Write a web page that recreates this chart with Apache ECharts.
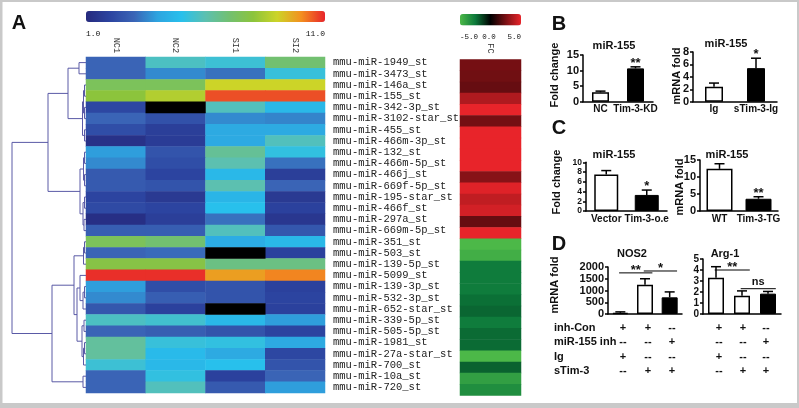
<!DOCTYPE html>
<html><head><meta charset="utf-8">
<script src="https://cdn.jsdelivr.net/npm/echarts@6/dist/echarts.min.js"></script>
<style>html,body{margin:0;padding:0;background:#fff}#c{width:799px;height:408px}</style>
</head><body><div id="c"></div>
<script>
// ---------- Panel A data ----------
const samples = ['NC1', 'NC2', 'SI1', 'SI2'];
const mirnas = ['mmu-miR-1949_st','mmu-miR-3473_st','mmu-miR-146a_st','mmu-miR-155_st','mmu-miR-342-3p_st',
  'mmu-miR-3102-star_st','mmu-miR-455_st','mmu-miR-466m-3p_st','mmu-miR-132_st','mmu-miR-466m-5p_st',
  'mmu-miR-466j_st','mmu-miR-669f-5p_st','mmu-miR-195-star_st','mmu-miR-466f_st','mmu-miR-297a_st',
  'mmu-miR-669m-5p_st','mmu-miR-351_st','mmu-miR-503_st','mmu-miR-139-5p_st','mmu-miR-5099_st',
  'mmu-miR-139-3p_st','mmu-miR-532-3p_st','mmu-miR-652-star_st','mmu-miR-339-5p_st','mmu-miR-505-5p_st',
  'mmu-miR-1981_st','mmu-miR-27a-star_st','mmu-miR-700_st','mmu-miR-10a_st','mmu-miR-720_st'];
// expression [NC1, NC2, SI1, SI2]; null = missing (black)
const expr = [
  [3.0, 5.7, 5.4, 7.0], [3.0, 3.6, 3.2, 5.3], [7.4, 7.4, 9.0, 9.0], [8.0, 8.6, 10.6, 10.6],
  [2.1, null, 5.8, 4.7], [3.0, 2.4, 3.6, 3.5], [2.3, 1.8, 4.2, 4.2], [1.3, 1.7, 4.2, 5.8],
  [3.9, 2.5, 6.4, 5.2], [3.6, 2.3, 6.0, 3.2], [2.7, 2.0, 4.7, 1.8], [2.7, 2.5, 6.0, 3.0],
  [2.0, 1.6, 4.6, 1.6], [2.2, 2.0, 5.0, 1.9], [1.2, 1.8, 3.2, 1.5], [2.8, 2.8, 5.8, 2.6],
  [7.4, 7.0, 4.3, 4.7], [3.0, 3.1, null, 1.9], [7.8, 7.8, 6.7, 6.7], [10.9, 10.9, 9.8, 10.1],
  [3.9, 2.3, 2.5, 1.9], [3.6, 2.8, 2.5, 2.0], [2.6, 1.9, null, 1.9], [5.7, 5.5, 4.7, 3.9],
  [3.0, 2.8, 2.5, 2.0], [6.3, 5.3, 5.2, 4.2], [6.3, 4.8, 4.2, 2.1], [5.4, 4.7, 5.0, 2.5],
  [3.0, 5.2, 1.9, 3.0], [3.0, 5.8, 2.7, 3.9]];
const fcValues = [2.4, 2.3, 2.1, 3.7, 5, 2.4, 5, 5, 5, 5, 2.8, 4.8, 4.1, 4.5, 2.1, 5,
  -5, -4.6, -2.6, -2.6, -2.6, -2.3, -2.1, -2.6, -2.2, -2.2, -5, -2.0, -4.0, -3.3];
// dendrogram: [merge height, left, right]; numbers are row indices
const dendroTree = [74,
  [38,
    [18, [7, 0, 1], [3.5, [2.5, [1.5, 2, 3], [1.5, 4, 5]], [1.5, 6, 7]]],
    [6, [2.5, [1.5, 8, 9], [1.5, 10, 11]], [3, [1.5, 12, 13], [2, 14, 15]]]],
  [34,
    [12, [2.5, [1.5, 16, 17], 18], [9, [6, 19, [3, [1.5, 20, 21], 22]], [4, [2, 23, 24], [2.5, [1.5, 25, 26], 27]]]],
    [3, 28, 29]]];
const heatTicks = ['1.0', '11.0'];
const fcTicks = ['-5.0', '0.0', '5.0'];
const fcName = ['FC'];

// ---------- Panels B, C, D data ----------
const b1Cats = ['NC', 'Tim-3-KD'], b1Mean = [3.0, 10.7], b1Err = [3.4, 11.2], b1Sig = ['', '**'];
const b2Cats = ['Ig', 'sTim-3-Ig'], b2Mean = [2.4, 5.4], b2Err = [3.0, 7.0], b2Sig = ['', '*'];
const c1Cats = ['Vector', 'Tim-3-o.e'], c1Mean = [7.5, 3.3], c1Err = [8.3, 4.3], c1Sig = ['', '*'];
const c2Cats = ['WT', 'Tim-3-TG'], c2Mean = [12.4, 3.6], c2Err = [13.9, 4.2], c2Sig = ['', '**'];
const dGroups = ['g1', 'g2', 'g3'];
const nosMean = [50, 1240, 710], nosErr = [90, 1500, 940];
const argMean = [3.3, 1.65, 1.85], argErr = [4.3, 2.1, 2.05];
const nosBrackets = [[0, 1, 1750, '**'], [1, 2, 1830, '*']];
const argBrackets = [[0, 1, 4.0, '**'], [1, 2, 2.3, 'ns']];
const tableRows = ['inh-Con', 'miR-155 inh', 'Ig', 'sTim-3'];
const tableMarks = [
  ['+', '+', '--', '+', '+', '--'],
  ['--', '--', '+', '--', '--', '+'],
  ['+', '--', '--', '+', '--', '--'],
  ['--', '+', '+', '--', '+', '+']];
const titles = ['miR-155', 'miR-155', 'miR-155', 'miR-155', 'NOS2', 'Arg-1'];
const yNames = ['Fold change', 'mRNA fold', 'Fold change', 'mRNA fold', 'mRNA fold'];
const panelLetters = ['A', 'B', 'C', 'D'];

// ---------- build ----------
const heatColors = ['#262a7e', '#2c44a0', '#3a64b6', '#2ea4e0', '#28c0ec', '#5cc0b0', '#72c070', '#8cc43c', '#ccd428', '#f3901f', '#e8242a'];
const fcColors = ['#4cb848', '#0c7a3b', '#000000', '#7a1014', '#e8242a'];

const heatData = [], missData = [];
expr.forEach((row, i) => row.forEach((v, j) => {
  if (v == null) missData.push([j, i, 0]); else heatData.push([j, i, v]);
}));
const fcData = fcValues.map((v, i) => [0, i, v]);

const segs = [];
function walk(n) {
  if (typeof n === 'number') return { y: n, h: 0 };
  const a = walk(n[1]), b = walk(n[2]);
  segs.push({ coords: [[a.h, a.y], [n[0], a.y], [n[0], b.y], [b.h, b.y]] });
  return { y: (a.y + b.y) / 2, h: n[0] };
}
walk(dendroTree);

const SANS = '"Liberation Sans", Arial, sans-serif';
const MONO = '"Liberation Mono", "DejaVu Sans Mono", monospace';

const grids = [
  { left: 86, top: 57, width: 239, height: 336 },
  { left: 11, top: 57, width: 75, height: 336 },
  { left: 460, top: 59.5, width: 61, height: 336 },
  { left: 583, top: 55, width: 70, height: 46.7 },
  { left: 693, top: 52, width: 84, height: 49.7 },
  { left: 586, top: 162.3, width: 81, height: 48.7 },
  { left: 700, top: 160, width: 78, height: 51 },
  { left: 608, top: 267, width: 74, height: 47 },
  { left: 703, top: 259, width: 78, height: 55 }
];

const xAxes = [
  { gridIndex: 0, type: 'category', data: samples, position: 'top', axisLine: { show: false }, axisTick: { show: false },
    axisLabel: { rotate: 90, fontFamily: MONO, fontSize: 8.5, color: '#333', margin: 4, interval: 0 } },
  { gridIndex: 1, type: 'value', min: 0, max: 75, inverse: true, show: false },
  { gridIndex: 2, type: 'category', data: fcName, position: 'top', axisLine: { show: false }, axisTick: { show: false },
    axisLabel: { rotate: 90, fontFamily: MONO, fontSize: 8.5, color: '#333', margin: 6, interval: 0 } }
];
const yAxes = [
  { gridIndex: 0, type: 'category', data: mirnas, inverse: true, position: 'right', axisLine: { show: false }, axisTick: { show: false },
    axisLabel: { fontFamily: MONO, fontSize: 10.5, color: '#222', margin: 8, interval: 0 } },
  { gridIndex: 1, type: 'value', min: -0.5, max: 29.5, inverse: true, show: false },
  { gridIndex: 2, type: 'category', data: mirnas, inverse: true, show: false }
];

const series = [
  { type: 'heatmap', xAxisIndex: 0, yAxisIndex: 0, data: heatData, itemStyle: { borderWidth: 0 } },
  { type: 'heatmap', xAxisIndex: 0, yAxisIndex: 0, data: missData, itemStyle: { color: '#000' } },
  { type: 'heatmap', xAxisIndex: 2, yAxisIndex: 2, data: fcData },
  { type: 'lines', coordinateSystem: 'cartesian2d', xAxisIndex: 1, yAxisIndex: 1, polyline: true,
    lineStyle: { color: '#5a5aa6', width: 1, opacity: 1 }, data: segs, silent: true }
];

function addBarChart(gi, cats, means, errs, sig, max, interval, fills, barW, showCats, tickFont) {
  xAxes.push({ gridIndex: gi, type: 'category', data: cats,
    axisLine: { lineStyle: { color: '#000', width: 1.5 } }, axisTick: { show: false },
    axisLabel: { show: showCats, interval: 0, fontFamily: SANS, fontWeight: 'bold', fontSize: 10, color: '#111', margin: 3 } });
  yAxes.push({ gridIndex: gi, type: 'value', min: 0, max: max, interval: interval,
    axisLine: { show: true, lineStyle: { color: '#000', width: 1.5 } },
    axisTick: { show: true, length: 3, lineStyle: { color: '#000', width: 1.5 } },
    splitLine: { show: false },
    axisLabel: { fontFamily: SANS, fontWeight: 'bold', fontSize: tickFont, lineHeight: tickFont - 1, padding: 0,
      color: '#111', margin: 4, hideOverlap: false, formatter: v => String(v) } });
  const ai = xAxes.length - 1;
  series.push({ type: 'bar', xAxisIndex: ai, yAxisIndex: ai, barWidth: barW, z: 3,
    data: means.map((v, i) => ({ value: v, itemStyle: fills[i] === 'w'
      ? { color: '#fff', borderColor: '#000', borderWidth: 1.5 } : { color: '#000', borderColor: '#000', borderWidth: 1 } })) });
  series.push({ type: 'custom', xAxisIndex: ai, yAxisIndex: ai, z: 5, silent: true,
    data: means.map((m, i) => [i, m, errs[i]]),
    renderItem: function (p, api) {
      const i = api.value(0);
      const a = api.coord([i, api.value(1)]), b = api.coord([i, api.value(2)]);
      const ch = [
        { type: 'line', shape: { x1: a[0], y1: a[1], x2: b[0], y2: b[1] }, style: { stroke: '#000', lineWidth: 1.5 } },
        { type: 'line', shape: { x1: b[0] - 5, y1: b[1], x2: b[0] + 5, y2: b[1] }, style: { stroke: '#000', lineWidth: 1.5 } }];
      const s = sig && sig[p.dataIndex];
      if (s) ch.push({ type: 'text', x: b[0], y: b[1] - 10, style: { text: s, x: 0, y: 0, align: 'center', verticalAlign: 'top',
        font: 'bold 13px ' + SANS, fill: '#111' } });
      return { type: 'group', children: ch };
    } });
  return ai;
}
function addBrackets(ai, brackets) {
  series.push({ type: 'custom', xAxisIndex: ai, yAxisIndex: ai, z: 6, silent: true,
    data: brackets.map(b => [b[0], b[1], b[2]]),
    renderItem: function (p, api) {
      const p1 = api.coord([api.value(0), api.value(2)]), p2 = api.coord([api.value(1), api.value(2)]);
      const bw = api.size([1, 0])[0];
      const x1 = p1[0] - 0.05 * bw, x2 = p2[0] + 0.3 * bw;
      const t = brackets[p.dataIndex][3];
      const isStar = t.indexOf('*') >= 0;
      return { type: 'group', children: [
        { type: 'line', shape: { x1: x1, y1: p1[1], x2: x2, y2: p1[1] }, style: { stroke: '#000', lineWidth: 1 } },
        { type: 'text', x: (x1 + x2) / 2, y: isStar ? p1[1] - 9 : p1[1] - 1, style: { text: t, x: 0, y: 0, align: 'center',
          verticalAlign: isStar ? 'top' : 'bottom', font: (isStar ? 'bold 13px ' : 'bold 11px ') + SANS, fill: '#111' } }] };
    } });
}

addBarChart(3, b1Cats, b1Mean, b1Err, b1Sig, 15, 5, ['w', 'k'], 17, true, 11);
addBarChart(4, b2Cats, b2Mean, b2Err, b2Sig, 8, 2, ['w', 'k'], 18, true, 11);
addBarChart(5, c1Cats, c1Mean, c1Err, c1Sig, 10, 2, ['w', 'k'], 24, true, 8.5);
addBarChart(6, c2Cats, c2Mean, c2Err, c2Sig, 15, 5, ['w', 'k'], 26, true, 11);
const nosAx = addBarChart(7, dGroups, nosMean, nosErr, null, 2000, 500, ['w', 'w', 'k'], 16, false, 11);
const argAx = addBarChart(8, dGroups, argMean, argErr, null, 5, 1, ['w', 'w', 'k'], 16, false, 10);
addBrackets(nosAx, nosBrackets);
addBrackets(argAx, argBrackets);

// ---------- graphics (frame + texts) ----------
const G = [];
G.push({ type: 'rect', z: -10, silent: true, shape: { x: 0, y: 0, width: 799, height: 408 }, style: { fill: '#c9c9c9' } });
G.push({ type: 'rect', z: -9, silent: true, shape: { x: 2.5, y: 2, width: 794.5, height: 401 }, style: { fill: '#ffffff' } });
function txt(t, x, y, font, align, va, rot) {
  G.push({ type: 'text', x: x, y: y, rotation: rot || 0, z: 10, silent: true,
    style: { text: t, x: 0, y: 0, font: font, align: align || 'center', verticalAlign: va || 'middle', fill: '#111' } });
}
const LET = 'bold 20px ' + SANS;
txt(panelLetters[0], 19, 23, LET);
txt(panelLetters[1], 559, 24, LET);
txt(panelLetters[2], 559, 128, LET);
txt(panelLetters[3], 559, 244, LET);
// colorbar tick labels
txt(heatTicks[0], 86, 34, '8px ' + MONO, 'left');
txt(heatTicks[1], 325, 34, '8px ' + MONO, 'right');
txt(fcTicks[0], 460, 37, '7.5px ' + MONO, 'left');
txt(fcTicks[1], 489, 37, '7.5px ' + MONO, 'center');
txt(fcTicks[2], 521, 37, '7.5px ' + MONO, 'right');
// chart titles
const TF = 'bold 11px ' + SANS;
const titlePos = [[614, 46], [726, 44], [614, 155], [727, 155], [632, 254], [725, 254]];
titles.forEach((t, i) => txt(t, titlePos[i][0], titlePos[i][1], TF));
// y-axis names
const yNamePos = [[555, 75], [677, 76], [557, 182], [680, 187], [555, 285]];
yNames.forEach((t, i) => txt(t, yNamePos[i][0], yNamePos[i][1], TF, 'center', 'middle', Math.PI / 2));
// table under D
const rowY = [328, 342, 357, 371];
const colX = [623, 648, 672, 719, 743, 766];
tableRows.forEach((r, i) => {
  txt(r, 554, rowY[i], TF, 'left');
  tableMarks[i].forEach((m, j) => txt(m, colX[j], rowY[i], TF, 'center'));
});

const option = {
  animation: false,
  backgroundColor: '#ffffff',
  textStyle: { fontFamily: SANS },
  grid: grids,
  xAxis: xAxes,
  yAxis: yAxes,
  visualMap: [
    { type: 'continuous', seriesIndex: 0, min: 1, max: 11, orient: 'horizontal', left: 86, top: 11,
      itemWidth: 11, itemHeight: 239, calculable: false, padding: 0, inRange: { color: heatColors }, hoverLink: false },
    { type: 'continuous', seriesIndex: 2, min: -5, max: 5, orient: 'horizontal', left: 460, top: 14,
      itemWidth: 11.5, itemHeight: 61, calculable: false, padding: 0, inRange: { color: fcColors }, hoverLink: false }
  ],
  series: series,
  graphic: { elements: G }
};
const chart = echarts.init(document.getElementById('c'));
chart.setOption(option);
</script>
</body></html>
